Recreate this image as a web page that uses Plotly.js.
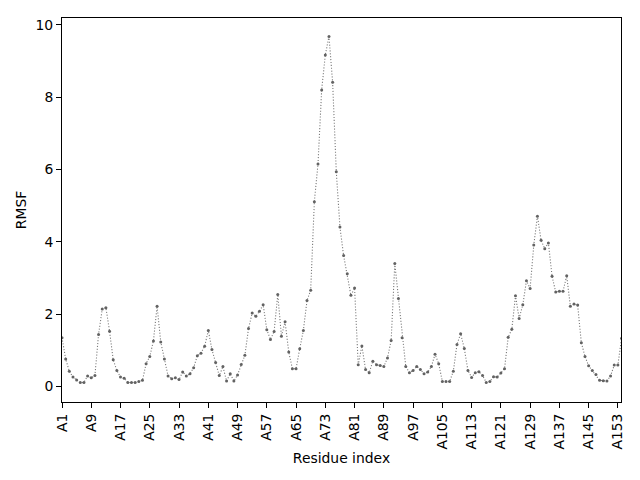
<!DOCTYPE html>
<html>
<head>
<meta charset="utf-8">
<script src="https://cdn.plot.ly/plotly-3.0.1.min.js"></script>
<style>html,body{margin:0;padding:0;background:#fff;}#chart{width:640px;height:480px;}</style>
</head>
<body>
<div id="chart"></div>
<script>
// Residue labels A1..A154
const residues = [];
for (let i = 1; i <= 154; i++) residues.push('A' + i);

// RMSF values
const rmsf = [
  1.35, 0.76, 0.42, 0.26, 0.18, 0.11, 0.11, 0.29, 0.24, 0.30,
  1.44, 2.14, 2.18, 1.53, 0.74, 0.44, 0.26, 0.23, 0.11, 0.11,
  0.11, 0.14, 0.17, 0.63, 0.83, 1.26, 2.22, 1.23, 0.76, 0.29,
  0.21, 0.24, 0.19, 0.40, 0.29, 0.35, 0.52, 0.85, 0.92, 1.11,
  1.55, 1.02, 0.66, 0.30, 0.55, 0.15, 0.35, 0.15, 0.32, 0.61,
  0.86, 1.60, 2.03, 1.94, 2.08, 2.26, 1.57, 1.30, 1.52, 2.54,
  1.39, 1.79, 0.95, 0.49, 0.49, 1.04, 1.55, 2.38, 2.66, 5.11,
  6.15, 8.20, 9.17, 9.68, 8.41, 5.94, 4.41, 3.62, 3.12, 2.52,
  2.72, 0.60, 1.12, 0.47, 0.38, 0.70, 0.60, 0.58, 0.55, 0.79,
  1.27, 3.40, 2.43, 1.35, 0.55, 0.38, 0.44, 0.55, 0.47, 0.35,
  0.40, 0.55, 0.89, 0.63, 0.14, 0.14, 0.14, 0.42, 1.16, 1.46,
  1.05, 0.44, 0.25, 0.38, 0.41, 0.30, 0.11, 0.14, 0.27, 0.26,
  0.37, 0.49, 1.36, 1.58, 2.51, 1.88, 2.26, 2.92, 2.71, 3.91,
  4.71, 4.04, 3.81, 3.97, 3.05, 2.61, 2.63, 2.63, 3.06, 2.22,
  2.28, 2.25, 1.21, 0.83, 0.57, 0.44, 0.33, 0.17, 0.16, 0.15,
  0.29, 0.59, 0.59, 1.33
];

// Tick labels every 8 residues
const tickLabels = [];
for (let i = 0; i < residues.length; i += 8) tickLabels.push(residues[i]);

const font = {family: 'DejaVu Sans', size: 13.9, color: '#000'};

const trace = {
  x: residues,
  y: rmsf,
  type: 'scatter',
  mode: 'lines+markers',
  line: {color: '#7a7a7a', width: 1.1, dash: '1.1px,1.8px'},
  marker: {color: '#626262', size: 3},
  hoverinfo: 'x+y'
};

const layout = {
  width: 640,
  height: 480,
  margin: {l: 62, r: 19, t: 18, b: 78, pad: 0},
  paper_bgcolor: '#fff',
  plot_bgcolor: '#fff',
  showlegend: false,
  font: font,
  xaxis: {
    type: 'category',
    range: [0, 152.85],
    tickmode: 'array',
    tickvals: tickLabels,
    ticktext: tickLabels,
    tickangle: -90,
    ticks: 'outside',
    ticklen: 5,
    tickwidth: 1,
    tickcolor: '#000',
    showline: true,
    mirror: true,
    linecolor: '#000',
    linewidth: 1,
    showgrid: false,
    zeroline: false,
    automargin: false,
    tickfont: font,
    title: {text: 'Residue index', font: font, standoff: 4}
  },
  yaxis: {
    range: [-0.43, 10.19],
    tickmode: 'linear',
    tick0: 0,
    dtick: 2,
    ticks: 'outside',
    ticklen: 5,
    tickwidth: 1,
    tickcolor: '#000',
    showline: true,
    mirror: true,
    linecolor: '#000',
    linewidth: 1,
    showgrid: false,
    zeroline: false,
    automargin: false,
    tickfont: font,
    title: {text: 'RMSF', font: font, standoff: 5}
  }
};

Plotly.newPlot('chart', [trace], layout, {staticPlot: true, displayModeBar: false});
</script>
</body>
</html>
